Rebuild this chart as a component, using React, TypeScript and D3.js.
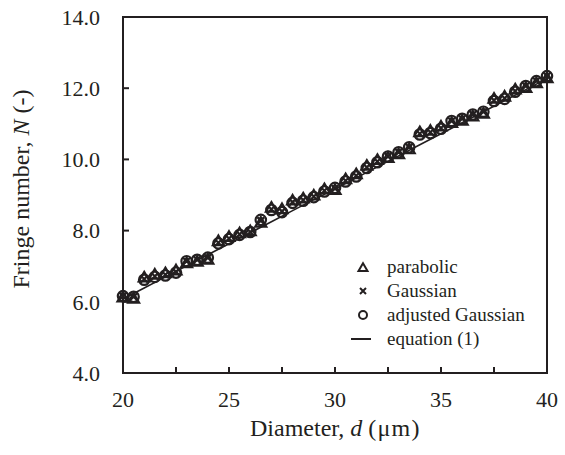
import React, { useEffect } from "react";
import * as d3 from "d3";

const diameters = [20, 20.5, 21, 21.5, 22, 22.5, 23, 23.5, 24, 24.5, 25, 25.5, 26, 26.5, 27, 27.5, 28, 28.5, 29, 29.5, 30,
  30.5, 31, 31.5, 32, 32.5, 33, 33.5, 34, 34.5, 35, 35.5, 36, 36.5, 37, 37.5, 38, 38.5, 39, 39.5, 40];
const parabolic = [6.12, 6.08, 6.68, 6.76, 6.80, 6.88, 7.08, 7.12, 7.18, 7.70, 7.82, 7.92, 7.98, 8.22, 8.64, 8.60, 8.84, 8.90, 8.98, 9.16, 9.14,
  9.44, 9.58, 9.82, 9.98, 10.04, 10.14, 10.28, 10.76, 10.80, 10.92, 11.02, 11.08, 11.20, 11.28, 11.70, 11.76, 11.96, 12.00, 12.14, 12.28];
const gaussian = [6.16, 6.14, 6.64, 6.72, 6.76, 6.84, 7.14, 7.18, 7.24, 7.66, 7.78, 7.90, 7.96, 8.28, 8.60, 8.54, 8.80, 8.86, 8.96, 9.12, 9.18,
  9.40, 9.54, 9.78, 9.94, 10.08, 10.20, 10.34, 10.72, 10.76, 10.88, 11.08, 11.14, 11.26, 11.34, 11.66, 11.72, 11.92, 12.06, 12.20, 12.34];
const adjustedGaussian = [6.16, 6.14, 6.62, 6.70, 6.74, 6.82, 7.14, 7.18, 7.24, 7.64, 7.76, 7.88, 7.96, 8.30, 8.58, 8.52, 8.78, 8.84, 8.94, 9.10, 9.20,
  9.38, 9.52, 9.76, 9.92, 10.08, 10.20, 10.34, 10.70, 10.74, 10.86, 11.08, 11.14, 11.26, 11.34, 11.64, 11.70, 11.90, 12.06, 12.20, 12.34];

const eqD = [20, 21, 22, 23, 24, 25, 26, 27, 28, 29, 30, 31, 32, 33, 34, 35, 36, 37, 38, 39, 40];
const eqN = [6.08, 6.39, 6.70, 7.01, 7.32, 7.63, 7.94, 8.25, 8.56, 8.87, 9.17, 9.48, 9.79, 10.10, 10.41, 10.72, 11.03, 11.34, 11.65, 11.96, 12.27];

const xTicks = [20, 22.5, 25, 27.5, 30, 32.5, 35, 37.5, 40];
const xLabels = [20, 25, 30, 35, 40];
const yTicks = [4, 6, 8, 10, 12, 14];

const legendItems = ["parabolic", "Gaussian", "adjusted Gaussian", "equation (1)"];

const INK = "#231f20";
const FONT = '"Liberation Serif", "DejaVu Serif", serif';

function Triangle({ x, y, s, w = 2.2 }: { x: number; y: number; s: number; w?: number }) {
  const h = s * 0.866;
  const p = `M${x},${y - h * 0.6}L${x + s / 2},${y + h * 0.4}L${x - s / 2},${y + h * 0.4}Z`;
  return <path d={p} fill="none" stroke={INK} strokeWidth={w} strokeLinejoin="miter" />;
}
function Cross({ x, y, s, w = 2.2 }: { x: number; y: number; s: number; w?: number }) {
  const r = s / 2;
  return <path d={`M${x - r},${y - r}L${x + r},${y + r}M${x - r},${y + r}L${x + r},${y - r}`} stroke={INK} strokeWidth={w} fill="none" />;
}
function Circle({ x, y, r, w = 2.2 }: { x: number; y: number; r: number; w?: number }) {
  return <circle cx={x} cy={y} r={r} fill="none" stroke={INK} strokeWidth={w} />;
}

export default function App() {
  useEffect(() => {
    document.body.style.margin = "0";
  }, []);

  const left = 123, right = 547, top = 17, bottom = 373;
  const x = d3.scaleLinear().domain([20, 40]).range([left, right]);
  const y = d3.scaleLinear().domain([4, 14]).range([bottom, top]);
  const line = d3.line<number>().x((_, i) => x(eqD[i])).y((v) => y(v));

  const legX = 363, legTextX = 387, legY0 = 267, legDy = 24;
  const ts = { fontFamily: FONT };

  return (
    <svg width={565} height={455} style={{ display: "block", fontFamily: FONT }}>
      <rect width={565} height={455} fill="#fff" />
      <path d={line(eqN) || ""} fill="none" stroke={INK} strokeWidth={1.6} />
      {diameters.map((d, i) => (
        <Triangle key={"p" + i} x={x(d)} y={y(parabolic[i])} s={11} />
      ))}
      {diameters.map((d, i) => (
        <Cross key={"g" + i} x={x(d)} y={y(gaussian[i])} s={7} />
      ))}
      {diameters.map((d, i) => (
        <Circle key={"a" + i} x={x(d)} y={y(adjustedGaussian[i])} r={5.2} />
      ))}
      <rect x={left} y={top} width={right - left} height={bottom - top} fill="none" stroke={INK} strokeWidth={2} />
      {xTicks.map((t) => (
        <line key={"xt" + t} x1={x(t)} x2={x(t)} y1={bottom} y2={bottom - 6} stroke={INK} strokeWidth={2} />
      ))}
      {yTicks.map((t) => (
        <line key={"yt" + t} x1={left} x2={left + 6} y1={y(t)} y2={y(t)} stroke={INK} strokeWidth={2} />
      ))}
      {xLabels.map((t) => (
        <text key={"xl" + t} style={ts} x={x(t)} y={407} textAnchor="middle" fontSize={22} fill={INK}>{t}</text>
      ))}
      {yTicks.map((t) => (
        <text key={"yl" + t} style={ts} x={100} y={y(t)} dy="0.35em" textAnchor="end" fontSize={22} fill={INK}>{t.toFixed(1)}</text>
      ))}
      <text style={ts} x={250} y={436} textAnchor="start" fontSize={24} fill={INK}>
        Diameter, <tspan fontStyle="italic">d</tspan> <tspan letterSpacing={1.2}>(μm)</tspan>
      </text>
      <text style={ts} transform={`translate(29,${(top + bottom) / 2 - 6}) rotate(-90)`} textAnchor="middle" fontSize={24} fill={INK}>
        Fringe number, <tspan fontStyle="italic">N</tspan> (-)
      </text>
      <Triangle x={legX} y={legY0 + 1} s={9} w={2} />
      <Cross x={legX} y={legY0 + legDy} s={6} w={2} />
      <Circle x={legX} y={legY0 + 2 * legDy} r={4} w={2} />
      <line x1={legX - 12} x2={legX + 8} y1={legY0 + 3 * legDy} y2={legY0 + 3 * legDy} stroke={INK} strokeWidth={2} />
      {legendItems.map((t, i) => (
        <text key={t} style={ts} x={legTextX} y={legY0 + i * legDy} dy="0.3em" fontSize={19} fill={INK}>{t}</text>
      ))}
    </svg>
  );
}
